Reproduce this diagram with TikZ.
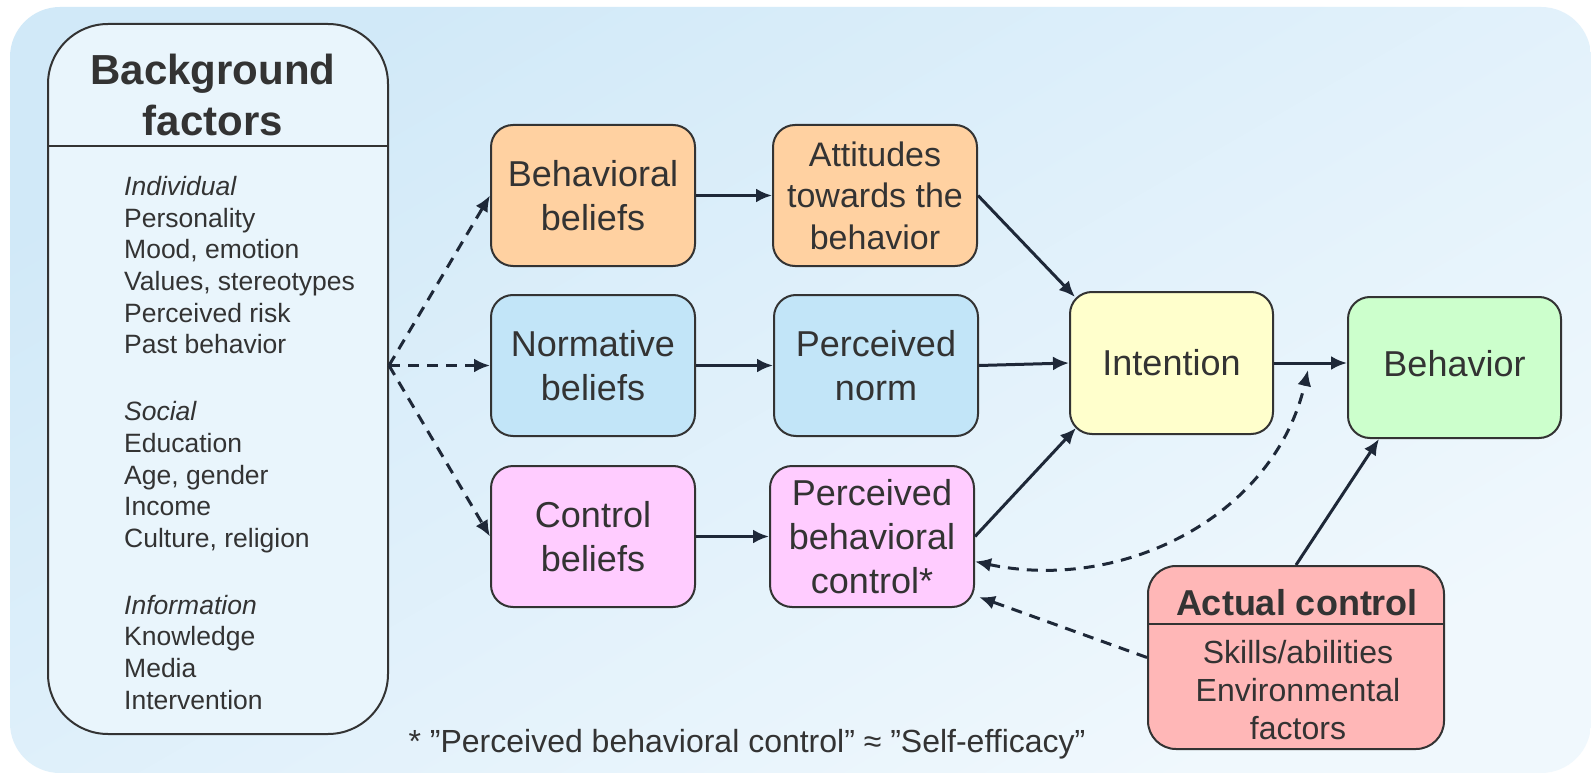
\documentclass[tikz,border=0pt]{standalone}
\usepackage{fontspec}
\setmainfont{Liberation Sans}
\usepackage{tikz}
\usetikzlibrary{arrows.meta, positioning, calc}
\definecolor{inkc}{HTML}{333333}
\definecolor{arrowc}{HTML}{1E2838}
\definecolor{bgtop}{HTML}{D1E9F8}
\definecolor{bgbot}{HTML}{F0F8FD}
\definecolor{panelc}{HTML}{E9F5FC}
\definecolor{peachc}{HTML}{FFD1A1}
\definecolor{skyc}{HTML}{C2E5F8}
\definecolor{pinkc}{HTML}{FFCCFF}
\definecolor{yellowc}{HTML}{FFFFCC}
\definecolor{greenc}{HTML}{CCFFCC}
\definecolor{redc}{HTML}{FFB7B7}
\tikzset{
  box/.style={draw=inkc, line width=2pt, rounded corners=22pt, minimum width=204pt, minimum height=141pt, align=center, inner sep=0pt, text=inkc, font=\fontsize{36}{44}\selectfont},
  attbox/.style={box, fill=peachc},
  normbox/.style={box, fill=skyc},
  ctrlbox/.style={box, fill=pinkc},
  divider/.style={draw=inkc, line width=2pt},
  flow/.style={-{Latex[length=16pt, width=14pt]}, line width=3pt, draw=arrowc},
  dflow/.style={flow, dash pattern=on 11pt off 8pt},
  dboth/.style={dflow, {Latex[length=16pt, width=14pt]}-{Latex[length=16pt, width=14pt]}},
}

\begin{document}
\begin{tikzpicture}[x=1pt, y=-1pt]
  \useasboundingbox (0,0) rectangle (1591,773);
  \fill[white] (0,0) rectangle (1591,773);
  \path[shade, top color=bgtop, bottom color=bgbot, shading angle=30, rounded corners=50pt] (10,7) rectangle (1591,773);

  % background factors
  \node[draw=inkc, line width=2pt, fill=panelc, rounded corners=60pt, minimum width=340pt, minimum height=710pt] (bgf) at (218,379) {};
  \draw[divider] (bgf.north west) ++(0,123) -- ++(340,0);
  \node[text=inkc, align=center, font=\bfseries\fontsize{42}{51}\selectfont] (bgtitle) at (213,95) {Background\\factors};
  \node[text=inkc, align=left, anchor=north west, inner sep=0pt, font=\fontsize{26.5}{31.7}\selectfont] (bglist) at (124,176)
    {\textit{Individual}\\Personality\\Mood, emotion\\Values, stereotypes\\Perceived risk\\Past behavior\\[35pt]
     \textit{Social}\\Education\\Age, gender\\Income\\Culture, religion\\[35pt]
     \textit{Information}\\Knowledge\\Media\\Intervention};

  % beliefs and their outcomes
  \node[attbox] (behbel) at (593,195.5) {Behavioral\\beliefs};
  \node[attbox, right=76pt of behbel, font=\fontsize{34}{41.5}\selectfont] (att) {Attitudes\\towards the\\behavior};
  \node[normbox, below=27pt of behbel] (normbel) {Normative\\beliefs};
  \node[normbox, right=77pt of normbel] (norm) {Perceived\\norm};
  \node[ctrlbox, below=28pt of normbel] (ctrlbel) {Control\\beliefs};
  \node[ctrlbox, right=73pt of ctrlbel] (pbc) {Perceived\\behavioral\\control*};

  \node[box, fill=yellowc, minimum width=203pt, minimum height=142pt] (intent) at (1171.5,363) {Intention};
  \node[box, fill=greenc, minimum width=213pt, text depth=8pt] (behav) at (1454.5,367.5) {Behavior};

  \node[draw=inkc, line width=2pt, fill=redc, rounded corners=28pt, minimum width=296pt, minimum height=183pt] (actual) at (1296,657.5) {};
  \draw[divider] (actual.north west) ++(0,59) -- ++(296,0);
  \node[text=inkc, font=\bfseries\fontsize{36}{43}\selectfont] (actitle) at (1297,603) {Actual control};
  \node[text=inkc, align=center, font=\fontsize{32}{38}\selectfont] (aclist) at (1298,690) {Skills/abilities\\Environmental\\factors};

  \node[text=inkc, font=\fontsize{32}{38}\selectfont] (fnote) at (747,744) {* ”Perceived behavioral control” ≈ ”Self-efficacy”};

  % connectors
  \coordinate (fan) at (bgf.east |- normbel.west);
  \coordinate (ctltip) at (1308,370);
  \draw[dflow] (fan) -- (behbel.west);
  \draw[dflow] (fan) -- (normbel.west);
  \draw[dflow] (fan) -- (ctrlbel.west);
  \draw[flow] (behbel) -- (att);
  \draw[flow] (normbel) -- (norm);
  \draw[flow] (ctrlbel) -- (pbc);
  \draw[flow] (att.east) -- ($(intent.north west)+(6,6)$);
  \draw[flow] (norm.east) -- (intent.west);
  \draw[flow] (pbc.east) -- ($(intent.south west)+(7,-7)$);
  \draw[flow] (intent.east) -- (intent.east -| behav.west);
  \draw[flow] (actual.north) -- ($(behav.south west)+(32,0)$);
  \draw[dboth] ($(pbc.east)+(0,25)$) to[out=-12, in=-103] (ctltip);
  \draw[dflow] (actual.west) -- ($(pbc.south east)+(4,-11)$);
\end{tikzpicture}
\end{document}
